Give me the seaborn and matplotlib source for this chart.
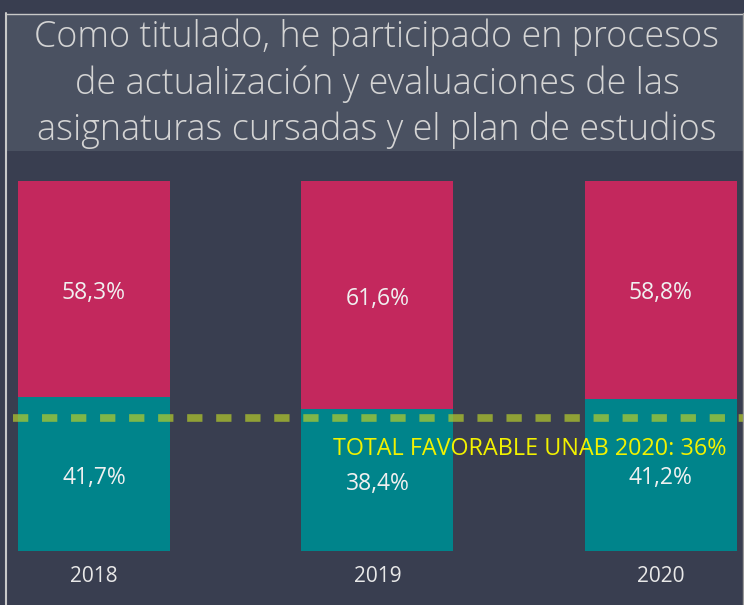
import matplotlib
matplotlib.use("Agg")
import matplotlib.pyplot as plt
from matplotlib.patches import Rectangle
from matplotlib.lines import Line2D
import seaborn as sns
import pandas as pd

# Survey results per cohort year
years = ["2018", "2019", "2020"]
favorable = [41.7, 38.4, 41.2]
unfavorable = [58.3, 61.6, 58.8]
fav_labels = ["41,7%", "38,4%", "41,2%"]
unfav_labels = ["58,3%", "61,6%", "58,8%"]
benchmark = 36
benchmark_label = "TOTAL FAVORABLE UNAB 2020: 36%"
title = ("Como titulado, he participado en procesos\n"
         "de actualización y evaluaciones de las\n"
         "asignaturas cursadas y el plan de estudios")

BG = "#393e50"
PANEL = "#4a5161"
PINK = "#c3285d"
TEAL = "#00848b"
TEXT = "#f0f0f0"

sns.set_theme(style="white")
plt.rcParams["font.family"] = ["Open Sans", "DejaVu Sans"]

W, H = 744, 605
fig = plt.figure(figsize=(W / 100, H / 100), dpi=100, facecolor=BG)

# Title panel and frame lines
fig.patches.append(Rectangle((7 / W, 1 - 151 / H), (W - 7) / W, 137 / H,
                             transform=fig.transFigure, facecolor=PANEL,
                             edgecolor="none", zorder=0))
fig.lines.append(Line2D([6.5 / W, 6.5 / W], [0, 1 - 13 / H], transform=fig.transFigure,
                        color="#c8c8c8", lw=1.5))
fig.lines.append(Line2D([6.5 / W, 1], [1 - 13.5 / H, 1 - 13.5 / H], transform=fig.transFigure,
                        color="#c8c8c8", lw=1.0))
fig.lines.append(Line2D([742.5 / W, 742.5 / W], [0, 1 - 13 / H], transform=fig.transFigure,
                        color="#9a9a9a", lw=1.0))
fig.text(377 / W, 1 - 84 / H, title, ha="center", va="center", color="#d4d4d4",
         fontsize=25.8, fontweight="light", linespacing=1.32)

# Plot area: y = 0 at pixel 551, y = 100 at pixel 181
ax = fig.add_axes([10 / W, (H - 551) / H, (W - 10) / W, 370 / H])
ax.set_facecolor("none")

df = pd.DataFrame({"year": years, "fav": favorable, "unfav": unfavorable})
df["total"] = df["fav"] + df["unfav"]

bw = 0.536
sns.barplot(data=df, x="year", y="total", color=PINK, width=bw, saturation=1,
            ax=ax, linewidth=0)
sns.barplot(data=df, x="year", y="fav", color=TEAL, width=bw, saturation=1,
            ax=ax, linewidth=0)

ax.set_xlim(-0.296, 2.293)
ax.set_ylim(0, 100)

for i in range(len(years)):
    ax.text(i, favorable[i] + unfavorable[i] / 2 - 1.0, unfav_labels[i], ha="center",
            va="center", color=TEXT, fontsize=16.5)
    ax.text(i, favorable[i] / 2 - 1.0, fav_labels[i], ha="center", va="center",
            color=TEXT, fontsize=16.5)

# Benchmark line, semi-transparent so it reads olive on the background
ax.axhline(benchmark, color="#b6cc2c", alpha=0.7, lw=5.5, linestyle=(0, (2.0, 1.8)),
           xmin=0.004, xmax=0.998)
ax.text(2.233, benchmark - 8.3, benchmark_label, ha="right", va="center",
        color="#f2f200", fontsize=16.8)

ax.set_xlabel("")
ax.set_ylabel("")
ax.set_yticks([])
ax.tick_params(axis="x", length=0, pad=11, labelsize=15, labelcolor="#e8e8e8")
for s in ax.spines.values():
    s.set_visible(False)

fig.savefig("out.png", dpi=100, facecolor=BG)
